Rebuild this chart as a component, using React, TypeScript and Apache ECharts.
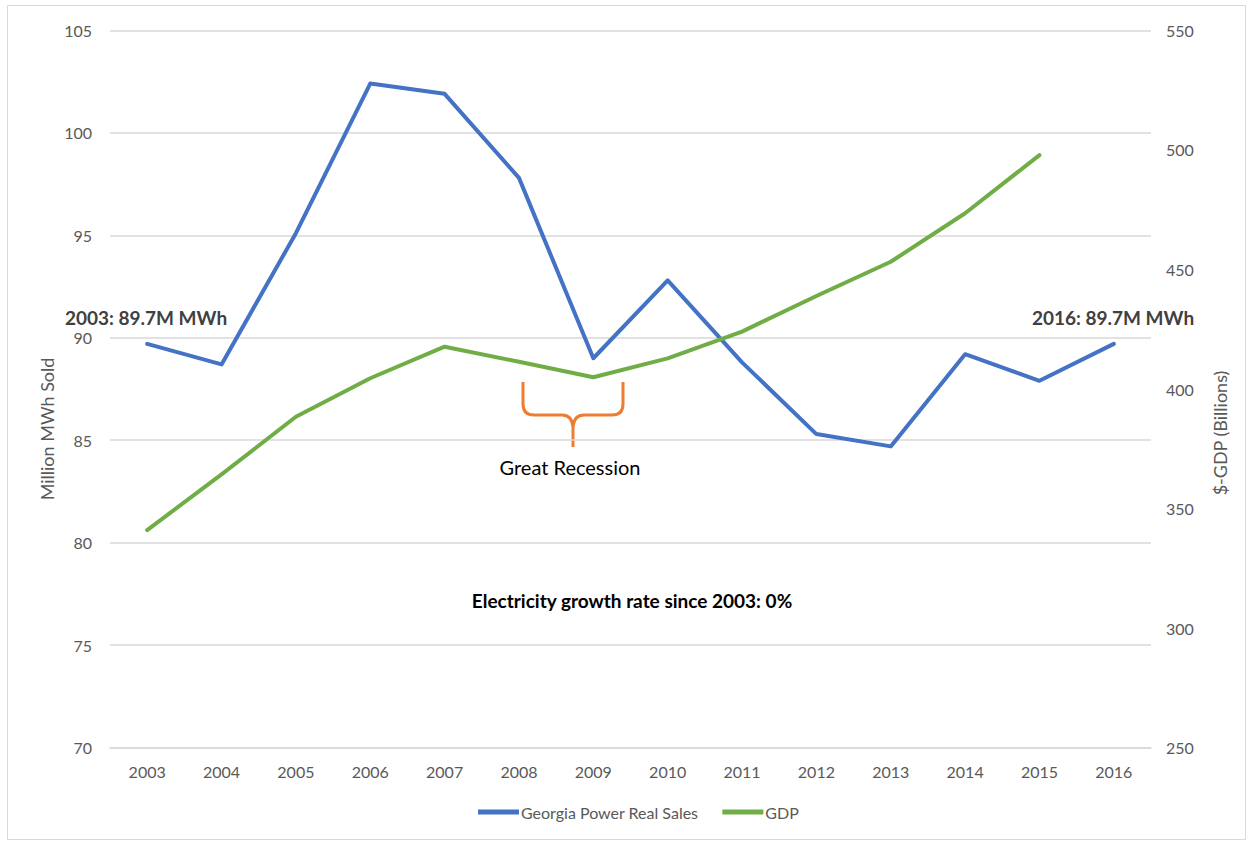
import React, { useEffect, useRef } from "react";
import * as echarts from "echarts";

const years = ["2003","2004","2005","2006","2007","2008","2009","2010","2011","2012","2013","2014","2015","2016"];
const salesValues = [89.7, 88.7, 95.1, 102.4, 101.9, 97.8, 89.0, 92.8, 88.8, 85.3, 84.7, 89.2, 87.9, 89.7];
const gdpValues = [341, 364.3, 388.4, 404.5, 417.7, 411.4, 404.9, 412.8, 424, 438.9, 453.2, 473.5, 497.8, null];
const leftTicks = { min: 70, max: 105, interval: 5 };
const rightTicks = { min: 250, max: 550, interval: 50 };

const FONT = "Lato, 'Open Sans', sans-serif";

const bracePath =
  "M 523 382 L 523 404 Q 523 415 534 415 L 562 415 Q 572 415 573 427 L 573 447 M 573 427 Q 574 415 584 415 L 612 415 Q 623 415 623 404 L 623 382";

let registered = false;
function registerBrace() {
  if (registered) return;
  const Brace = (echarts.graphic as any).extendPath(bracePath, {});
  echarts.graphic.registerShape("brace", Brace);
  registered = true;
}

export default function App() {
  const ref = useRef<HTMLDivElement>(null);
  useEffect(() => {
    if (!ref.current) return;
    registerBrace();
    const chart = echarts.init(ref.current, null, { renderer: "svg" });
    chart.setOption({
      animation: false,
      backgroundColor: "#ffffff",
      textStyle: { fontFamily: FONT },
      grid: { left: 110, right: 99, top: 30.3, bottom: 95.3, containLabel: false },
      legend: {
        bottom: 18,
        left: 473,
        itemWidth: 41,
        itemHeight: 5,
        itemGap: 24,
        icon: "rect",
        textStyle: { color: "#595959", fontSize: 16, fontFamily: FONT, padding: [0, 0, 0, -3] },
        data: ["Georgia Power Real Sales", "GDP"],
      },
      xAxis: {
        type: "category",
        data: years,
        boundaryGap: true,
        axisLine: { show: true, lineStyle: { color: "#D9D9D9", width: 1.5 } },
        axisTick: { show: false },
        axisLabel: { color: "#595959", fontSize: 16, margin: 16, fontFamily: FONT },
      },
      yAxis: [
        {
          type: "value",
          min: leftTicks.min,
          max: leftTicks.max,
          interval: leftTicks.interval,
          position: "left",
          axisLine: { show: false },
          axisTick: { show: false },
          axisLabel: { color: "#595959", fontSize: 16, margin: 18, fontFamily: FONT },
          splitLine: { lineStyle: { color: "#D9D9D9", width: 1.5 } },
        },
        {
          type: "value",
          min: rightTicks.min,
          max: rightTicks.max,
          interval: rightTicks.interval,
          position: "right",
          axisLine: { show: false },
          axisTick: { show: false },
          axisLabel: { color: "#595959", fontSize: 16, margin: 15, fontFamily: FONT },
          splitLine: { show: false },
        },
      ],
      series: [
        {
          name: "Georgia Power Real Sales",
          type: "line",
          yAxisIndex: 0,
          data: salesValues,
          symbol: "none",
          color: "#4472C4",
          lineStyle: { width: 4, color: "#4472C4", cap: "round", join: "round" },
        },
        {
          name: "GDP",
          type: "line",
          yAxisIndex: 1,
          data: gdpValues,
          symbol: "none",
          color: "#70AD47",
          lineStyle: { width: 4, color: "#70AD47", cap: "round", join: "round" },
        },
      ],
      graphic: [
        {
          type: "rect",
          shape: { x: 7.5, y: 5.5, width: 1238, height: 834 },
          style: { fill: "none", stroke: "#D9D9D9", lineWidth: 1 },
          silent: true,
        },
        {
          type: "text",
          x: 47,
          y: 429,
          rotation: Math.PI / 2,
          style: {
            text: "Million MWh Sold",
            fill: "#595959",
            font: `18px ${FONT}`,
            textAlign: "center",
            textVerticalAlign: "middle",
          },
        },
        {
          type: "text",
          x: 1220,
          y: 433,
          rotation: Math.PI / 2,
          style: {
            text: "$-GDP (Billions)",
            fill: "#595959",
            font: `18px ${FONT}`,
            textAlign: "center",
            textVerticalAlign: "middle",
          },
        },
        {
          type: "text",
          x: 146,
          y: 317,
          style: {
            text: "2003: 89.7M MWh",
            fill: "#404040",
            font: `bold 19px ${FONT}`,
            textAlign: "center",
            textVerticalAlign: "middle",
          },
        },
        {
          type: "text",
          x: 1113,
          y: 317,
          style: {
            text: "2016: 89.7M MWh",
            fill: "#404040",
            font: `bold 19px ${FONT}`,
            textAlign: "center",
            textVerticalAlign: "middle",
          },
        },
        {
          type: "text",
          x: 632,
          y: 600,
          style: {
            text: "Electricity growth rate since 2003: 0%",
            fill: "#000000",
            font: `bold 19px ${FONT}`,
            textAlign: "center",
            textVerticalAlign: "middle",
          },
        },
        {
          type: "text",
          x: 570,
          y: 467,
          style: {
            text: "Great Recession",
            fill: "#000000",
            font: `20px ${FONT}`,
            textAlign: "center",
            textVerticalAlign: "middle",
          },
        },
        {
          type: "brace",
          x: 0,
          y: 0,
          style: { fill: "none", stroke: "#ED7D31", lineWidth: 3 },
        },
      ],
    });
    return () => chart.dispose();
  }, []);
  return (
    <div
      ref={ref}
      style={{ position: "fixed", left: 0, top: 0, width: 1250, height: 843 }}
    />
  );
}
